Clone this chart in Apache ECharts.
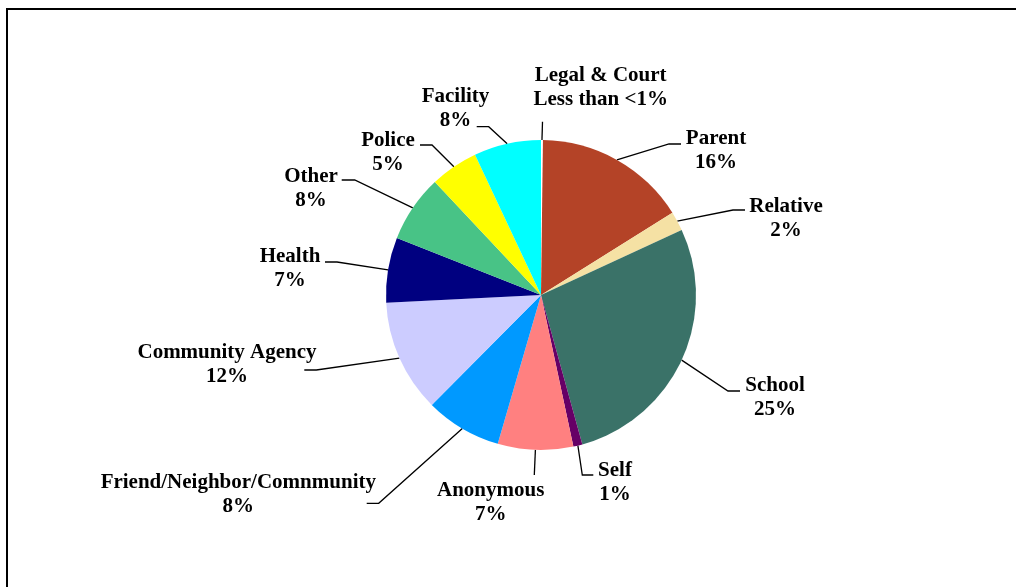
<!DOCTYPE html>
<html>
<head>
<meta charset="utf-8">
<script src="https://cdn.jsdelivr.net/npm/echarts@6/dist/echarts.min.js"></script>
<style>
html,body{margin:0;padding:0;background:#fff;}
#c{width:1016px;height:587px;}
</style>
</head>
<body>
<div id="c"></div>
<script>
// ---- data ----
const categories = ['Legal & Court', 'Parent', 'Relative', 'School', 'Self', 'Anonymous',
  'Friend/Neighbor/Comnmunity', 'Community Agency', 'Health', 'Other', 'Police', 'Facility'];
const shares = [0.2, 15.9, 2.0, 27.6, 0.95, 7.85, 7.95, 11.75, 6.8, 7.0, 5.0, 7.0];
const shareLabels = ['Less than <1%', '16%', '2%', '25%', '1%', '7%', '8%', '12%', '7%', '8%', '5%', '8%'];

// ---- styles / layout (separate from data) ----
const colors = ['#FFFFFF', '#B44327', '#F5E1A4', '#3A7268', '#660066', '#FF8080',
  '#0099FF', '#CCCCFF', '#000080', '#48C386', '#FFFF00', '#00FFFF'];
const labelCenters = [[600.7, 87.5], [716, 151], [786, 218.5], [775, 398], [615, 482.5], [490.7, 502.5],
  [238.3, 495], [227, 365], [290, 268.5], [311, 188.5], [388, 153], [455.5, 108.5]];
const lineEnds = [[542.5, 121.7], [681, 144], [745, 210], [740, 391], [593.3, 475], [534.3, 475],
  [366.7, 503.3], [304.3, 370], [325, 262], [341.7, 180], [420, 145], [476.7, 126.7]];
const elbowLen = [0, 12, 12, 12, 11, 0, 12, 12, 12, 13, 12, 12];

const chart = echarts.init(document.getElementById('c'), null, {renderer: 'canvas'});

const pieData = categories.map((name, i) => ({
  name: name,
  value: shares[i],
  itemStyle: {color: colors[i]}
}));

chart.setOption({
  backgroundColor: '#ffffff',
  animation: false,
  graphic: [{
    type: 'polyline',
    silent: true,
    shape: {points: [[7, 600], [7, 9], [1030, 9]]},
    style: {stroke: '#000', lineWidth: 2, fill: null}
  }],
  series: [{
    type: 'pie',
    center: [541, 295],
    radius: 155,
    startAngle: 90,
    clockwise: true,
    avoidLabelOverlap: false,
    minShowLabelAngle: 0,
    data: pieData,
    itemStyle: {borderWidth: 0},
    emphasis: {disabled: true},
    label: {
      show: true,
      position: 'outside',
      formatter: p => categories[p.dataIndex] + '\n' + shareLabels[p.dataIndex],
      fontFamily: '"Liberation Serif", "Times New Roman", serif',
      fontWeight: 'bold',
      fontSize: 21,
      lineHeight: 24,
      color: '#000',
      align: 'center'
    },
    labelLine: {
      show: true,
      length: 20,
      length2: 12,
      lineStyle: {color: '#000', width: 1.3}
    },
    labelLayout: function (params) {
      const i = params.dataIndex;
      const c = labelCenters[i];
      const e = lineEnds[i];
      const pts = params.labelLinePoints;
      const s = pts && pts[0] ? pts[0] : e;
      const dir = s[0] < e[0] ? -1 : 1;
      const elbow = [e[0] + dir * elbowLen[i], e[1]];
      return {
        x: c[0],
        y: c[1],
        align: 'center',
        verticalAlign: 'middle',
        labelLinePoints: [[s[0], s[1]], elbow, [e[0], e[1]]]
      };
    }
  }]
});
</script>
</body>
</html>
